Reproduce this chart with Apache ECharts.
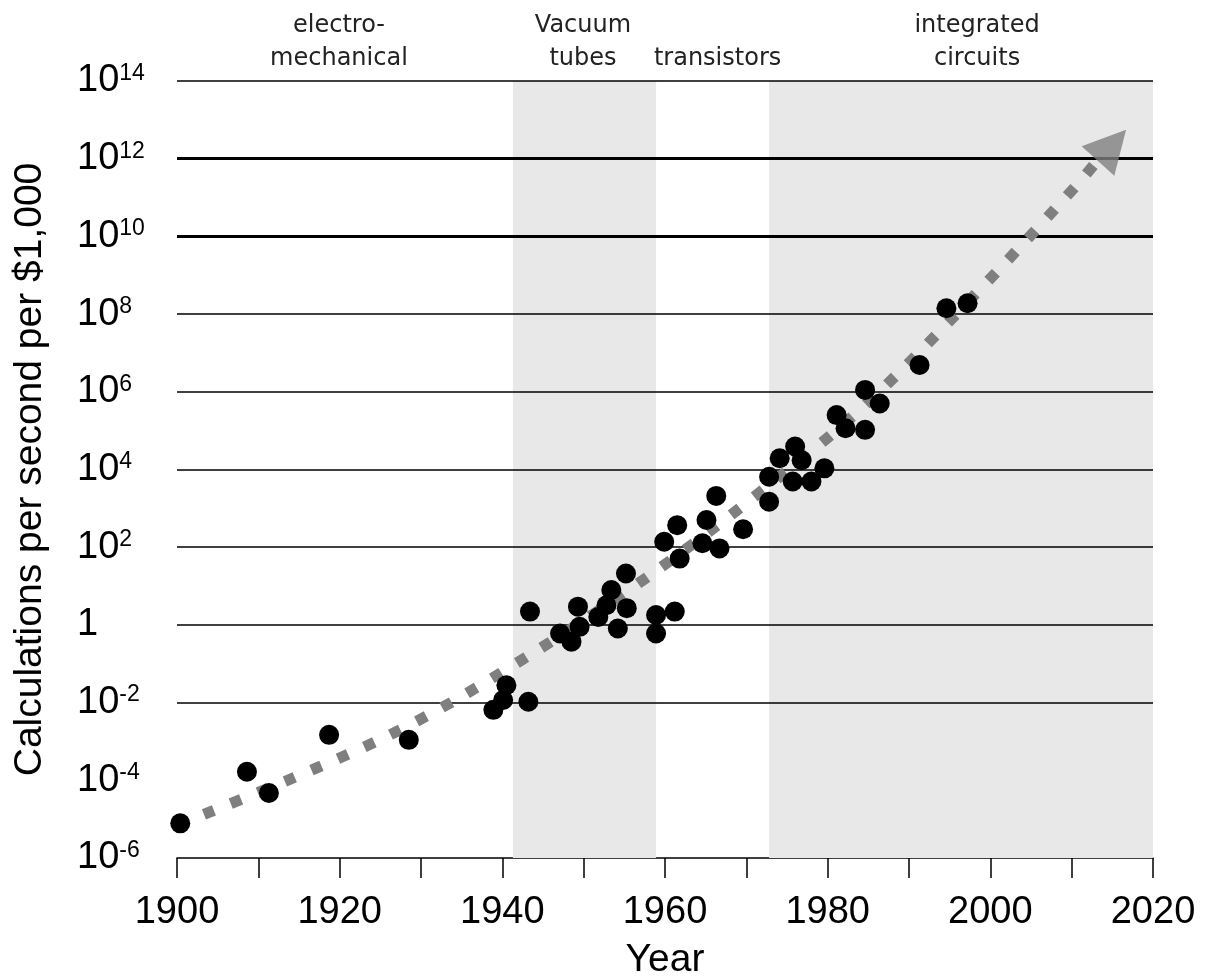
<!DOCTYPE html>
<html><head><meta charset="utf-8">
<script src="https://cdn.jsdelivr.net/npm/echarts@6/dist/echarts.min.js"></script>
<style>html,body{margin:0;padding:0;background:#fff}#c{width:1212px;height:976px}</style>
</head><body><div id="c"></div>
<script>
// Data
const pointYears = [1900.4, 1908.6, 1911.3, 1918.7, 1928.5, 1938.9, 1940.1, 1940.5, 1943.2, 1943.4,
  1947.1, 1948.5, 1949.5, 1949.3, 1951.8, 1952.8, 1953.4, 1954.2, 1955.3, 1955.2,
  1958.9, 1958.9, 1961.2, 1959.9, 1961.5, 1961.8, 1964.6, 1965.1, 1966.3, 1966.7,
  1969.6, 1972.8, 1972.8, 1974.1, 1975.7, 1976.0, 1976.8, 1978.0, 1979.6, 1981.1,
  1982.2, 1984.6, 1984.6, 1986.4, 1991.3, 1994.6, 1997.2];
const pointValues = [7.8e-6, 1.66e-4, 4.7e-5, 1.48e-3, 1.1e-3, 6.5e-3, 1.17e-2, 2.8e-2, 1.05e-2, 2.2,
  0.6, 0.37, 0.89, 2.95, 1.6, 3.2, 7.9, 0.81, 2.7, 21,
  1.8, 0.6, 2.2, 138, 370, 51, 126, 500, 2090, 93,
  290, 1480, 6500, 19500, 4900, 39000, 17400, 4900, 10700, 251000,
  115000, 105000, 1.12e6, 5.0e5, 4.9e6, 1.41e8, 1.9e8];
const trendYears = [1900, 1914.5, 1928.1, 1940.8, 1956.1, 1970.8, 1984.6, 1998.3, 2010.4, 2013.1];
const trendValues = [7.1e-6, 1.2e-4, 2.34e-3, 7.8e-2, 9.5, 1860, 4.6e5, 3.5e8, 1.86e11, 8.7e11];
const arrowYears = [2014.96];
const arrowValues = [2.2e12];
const eraNames = ['electro-\nmechanical', 'Vacuum\ntubes', 'transistors', 'integrated\ncircuits'];
const eraStarts = [1900, 1941.3, 1958.9, 1972.8];
const eraEnds = [1941.3, 1958.9, 1972.8, 2020];
const eraShaded = [false, true, false, true];
const gridValues = [1e-4, 1e-2, 1, 1e2, 1e4, 1e6, 1e8, 1e10, 1e12, 1e14];
const thickGridValues = [1e12, 1e10];
const xLabelYears = [1900, 1920, 1940, 1960, 1980, 2000, 2020];

// Styles (not data)
const eraLabelOffsets = [[-6, 0], [-1.5, 0], [5, 0], [16, 0]];
const AX_FONT = '"Liberation Sans", Arial, sans-serif';
const ANN_FONT = '"DejaVu Sans", sans-serif';

const chart = echarts.init(document.getElementById('c'), null, {renderer: 'canvas'});

const eraAreas = eraNames.map((n, i) => [
  { name: n, xAxis: eraStarts[i],
    itemStyle: { color: eraShaded[i] ? '#e8e8e8' : 'rgba(0,0,0,0)' },
    label: { offset: eraLabelOffsets[i] } },
  { xAxis: eraEnds[i] }
]);

const gridLines = gridValues.map(v => ({
  yAxis: v,
  lineStyle: { color: '#000', type: 'solid', width: thickGridValues.indexOf(v) >= 0 ? 3 : 1.5 }
}));

const option = {
  animation: false,
  backgroundColor: '#fff',
  grid: { left: 177, right: 59, top: 81, bottom: 118, containLabel: false, outerBoundsMode: 'none' },
  xAxis: {
    type: 'value', min: 1900, max: 2020, interval: 10,
    axisLine: { show: true, lineStyle: { color: '#000', width: 1.5 } },
    axisTick: { show: true, length: 20, lineStyle: { color: '#000', width: 1.5 } },
    axisLabel: {
      formatter: v => xLabelYears.indexOf(v) >= 0 ? String(v) : '',
      fontSize: 38, color: '#000', fontFamily: AX_FONT, margin: 36
    },
    splitLine: { show: false },
    name: 'Year', nameLocation: 'middle', nameGap: 83,
    nameTextStyle: { fontSize: 39, color: '#000', fontFamily: AX_FONT }
  },
  yAxis: {
    type: 'log', logBase: 10, min: 1e-6, max: 1e14, interval: 2,
    axisLine: { show: false }, axisTick: { show: false },
    splitLine: { show: false },
    axisLabel: {
      align: 'left', margin: 100,
      formatter: v => {
        const e = Math.round(Math.log10(v));
        return e === 0 ? '{b|1}' : '{b|10}{s|' + e + '}';
      },
      rich: {
        b: { fontSize: 38, fontFamily: AX_FONT, color: '#000' },
        s: { fontSize: 23, fontFamily: AX_FONT, color: '#000', verticalAlign: 'top' }
      }
    },
    name: 'Calculations per second per $1,000', nameLocation: 'middle', nameGap: 127, nameRotate: 90,
    nameTextStyle: { fontSize: 39, color: '#000', fontFamily: AX_FONT }
  },
  series: [
    {
      type: 'scatter', data: [], z: 1, silent: true,
      markArea: {
        silent: true, z: 1,
        label: { show: true, position: 'top', distance: 6, fontSize: 24, fontFamily: ANN_FONT,
                 color: '#222', lineHeight: 33, align: 'center' },
        data: eraAreas
      },
      markLine: {
        silent: true, z: 2, symbol: 'none', label: { show: false },
        lineStyle: { color: '#000', width: 1.5, type: 'solid' },
        data: gridLines
      }
    },
    {
      type: 'line', z: 8, silent: true, symbol: 'none', smooth: 0.35,
      data: trendYears.map((y, i) => [y, trendValues[i]]),
      lineStyle: { color: '#7f7f7f', width: 11, type: [11, 18], cap: 'butt' }
    },
    {
      type: 'scatter', z: 8, silent: true, symbol: 'triangle', symbolSize: [44, 42], symbolRotate: -42,
      itemStyle: { color: '#7f7f7f' },
      data: arrowYears.map((y, i) => [y, arrowValues[i]])
    },
    {
      type: 'scatter', z: 10, symbolSize: 20,
      itemStyle: { color: '#000', opacity: 1 },
      data: pointYears.map((y, i) => [y, pointValues[i]])
    }
  ]
};
chart.setOption(option);
</script>
</body></html>
